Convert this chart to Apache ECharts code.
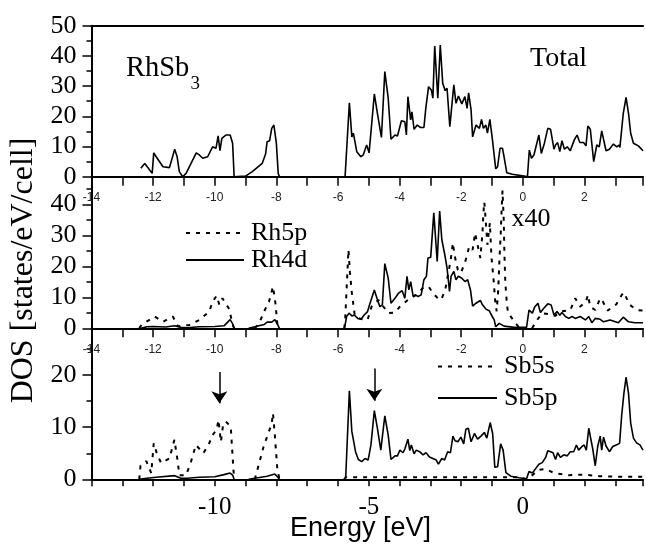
<!DOCTYPE html>
<html><head><meta charset="utf-8">
<script src="https://cdn.jsdelivr.net/npm/echarts@6/dist/echarts.min.js"></script>
<style>html,body{margin:0;padding:0;background:#fff}#c{width:646px;height:546px}</style>
</head><body><div id="c"></div>
<script>
// ---- axis ranges and tick labels ----
const xMin = -14, xMax = 3.9;
const yMaxTop = 50, yMaxMid = 49, yMaxBot = 29;
const xTickLabelsSmall = [-14, -12, -10, -8, -6, -4, -2, 0, 2];
const xTickLabelsBottom = [-10, -5, 0];
const yTickLabelsTop = [0, 10, 20, 30, 40, 50];
const yTickLabelsMid = [0, 10, 20, 30, 40];
const yTickLabelsBot = [0, 10, 20];

// ---- series (energy eV, DOS); '-' marks a gap where the curve lies on zero ----
const totalDOS = [[-12.4,2.8],[-12.27,4.4],[-12.03,1.1],[-11.98,7.9],[-11.9,6.6],[-11.68,3.3],[-11.47,3.0],[-11.3,9.1],[-11.22,6.6],[-11.15,1.7],[-11.04,0],[-10.93,1.1],[-10.6,7.9],[-10.5,7.2],[-10.39,6.1],[-10.23,6.6],[-10.07,9.9],[-9.96,9.4],[-9.89,13.5],[-9.83,8.6],[-9.77,12.7],[-9.64,13.8],[-9.5,13.8],[-9.42,11.1],[-9.37,0],[-9.0,0.2],[-8.78,1.7],[-8.46,4.4],[-8.35,7.5],[-8.3,11.6],[-8.22,11.9],[-8.15,16.0],[-8.08,17.1],[-8.0,11.1],[-7.94,1.1],[-7.9,0],[-6.8,'-'],[-5.77,0],[-5.63,24.5],[-5.55,13.2],[-5.5,14.4],[-5.39,8.3],[-5.26,6.6],[-5.18,7.2],[-5.07,10.5],[-4.99,7.9],[-4.82,27.4],[-4.72,21.0],[-4.59,13.0],[-4.48,34.8],[-4.37,26.0],[-4.28,12.4],[-4.15,13.8],[-4.07,13.5],[-3.94,18.5],[-3.83,18.2],[-3.78,13.8],[-3.73,26.5],[-3.64,18.8],[-3.6,21.5],[-3.53,15.7],[-3.43,17.1],[-3.32,16.3],[-3.21,16.3],[-3.15,22.6],[-3.06,29.8],[-2.97,28.7],[-2.92,26.0],[-2.86,43.3],[-2.76,26.0],[-2.68,43.6],[-2.6,30.9],[-2.52,28.5],[-2.46,29.3],[-2.37,16.6],[-2.24,30.4],[-2.17,24.3],[-2.09,26.7],[-1.98,24.1],[-1.88,26.5],[-1.81,22.6],[-1.76,27.8],[-1.68,22.1],[-1.63,13.2],[-1.52,17.1],[-1.41,16.0],[-1.34,19.0],[-1.28,16.0],[-1.2,17.1],[-1.15,14.4],[-1.07,19.0],[-0.99,12.5],[-0.88,2.6],[-0.82,3.3],[-0.74,9.4],[-0.66,9.4],[-0.61,6.6],[-0.52,1.3],[-0.34,0.8],[0.04,0.2],[0.15,0],[0.21,8.8],[0.28,6.1],[0.36,7.2],[0.52,13.8],[0.6,7.7],[0.7,11.1],[0.81,16.0],[0.9,15.7],[0.95,15.7],[1.01,9.1],[1.06,10.5],[1.13,11.3],[1.2,8.3],[1.27,11.9],[1.35,9.1],[1.44,9.9],[1.54,8.6],[1.67,12.2],[1.76,13.8],[1.85,11.3],[1.97,11.3],[2.05,10.2],[2.11,16.8],[2.19,15.7],[2.3,5.0],[2.4,10.5],[2.48,9.9],[2.56,15.2],[2.7,8.6],[2.81,9.1],[2.94,10.8],[3.05,9.9],[3.12,10.5],[3.15,9.7],[3.26,21.0],[3.35,26.3],[3.43,21.0],[3.5,14.4],[3.59,11.1],[3.75,10.2],[3.9,8.6]];

const rh5p = [[-12.45,0],[-12.38,1.1],[-11.95,3.8],[-11.68,2.1],[-11.36,3.8],[-11.2,0.7],[-10.82,1.1],[-10.5,2.7],[-10.18,5.4],[-10.07,8.6],[-9.94,10.5],[-9.85,7.6],[-9.75,9.7],[-9.53,6.2],[-9.43,1.6],[-9.37,0],[-9.0,'-'],[-8.7,0],[-8.56,1.6],[-8.4,5.4],[-8.24,8.6],[-8.11,13.5],[-8.03,8.1],[-7.97,1.6],[-7.9,0],[-6.8,'-'],[-5.8,0],[-5.77,2.1],[-5.66,25.4],[-5.61,17.9],[-5.55,11.4],[-5.45,3.8],[-5.25,3.0],[-5.04,2.7],[-4.91,7.0],[-4.69,9.2],[-4.37,4.9],[-4.15,5.1],[-3.99,7.0],[-3.73,9.2],[-3.46,10.8],[-3.24,13.0],[-3.06,13.5],[-2.92,11.4],[-2.76,9.7],[-2.65,9.2],[-2.52,12.4],[-2.44,16.8],[-2.35,21.6],[-2.27,27.6],[-2.22,23.8],[-2.11,18.9],[-2.01,17.9],[-1.85,22.2],[-1.74,26.5],[-1.63,25.4],[-1.55,30.8],[-1.47,27.0],[-1.38,22.7],[-1.31,30.8],[-1.28,37.3],[-1.25,40.8],[-1.2,34.1],[-1.15,27.0],[-1.07,34.1],[-1.02,23.2],[-0.95,15.7],[-0.9,9.2],[-0.85,5.5],[-0.8,12],[-0.76,22],[-0.72,30],[-0.69,38],[-0.66,44.5],[-0.62,35],[-0.6,25],[-0.57,15],[-0.52,8],[-0.48,5.0],[-0.23,1.6],[-0.1,0],[0.1,'-'],[0.3,0],[0.45,2.5],[0.63,4.9],[0.9,4.5],[1.05,4.0],[1.22,5.4],[1.54,5.9],[1.7,9.7],[1.86,7.0],[2.05,8.6],[2.11,10.8],[2.19,7.0],[2.35,5.9],[2.51,9.7],[2.6,8.6],[2.75,5.7],[3.03,7.7],[3.21,10.8],[3.28,11.6],[3.46,7.7],[3.69,5.9],[3.9,5.7]];

const rh4d = [[-12.4,0],[-12.2,0.5],[-12.0,0.6],[-11.6,0.4],[-11.3,0.8],[-11.1,0.3],[-10.9,0.2],[-10.5,0.5],[-10.0,0.6],[-9.7,0.8],[-9.5,2.8],[-9.42,1.5],[-9.37,0],[-9.1,'-'],[-8.9,0],[-8.7,0.5],[-8.4,1.2],[-8.3,2.0],[-8.15,2.0],[-8.05,2.8],[-7.95,1.0],[-7.9,0],[-6.8,'-'],[-5.79,0],[-5.72,3.8],[-5.64,4.9],[-5.55,4.0],[-5.47,4.3],[-5.36,3.2],[-5.25,2.9],[-5.15,4.3],[-5.04,5.4],[-4.96,8.1],[-4.82,12.4],[-4.72,9.2],[-4.64,7.0],[-4.56,7.6],[-4.48,20.9],[-4.37,16.2],[-4.28,8.1],[-4.15,9.7],[-4.03,11.4],[-3.92,12.2],[-3.83,9.7],[-3.76,16.8],[-3.7,12.4],[-3.64,15.1],[-3.56,10.3],[-3.49,10.8],[-3.4,10.3],[-3.3,10.8],[-3.21,15.7],[-3.13,16.8],[-3.08,22.7],[-2.99,23.0],[-2.89,37.3],[-2.78,21.6],[-2.7,37.9],[-2.63,28.7],[-2.54,24.1],[-2.46,19.5],[-2.38,11.9],[-2.33,16.8],[-2.24,18.4],[-2.17,15.7],[-2.09,16.8],[-1.98,16.2],[-1.88,15.1],[-1.79,15.7],[-1.7,12.4],[-1.63,7.2],[-1.52,8.1],[-1.38,9.0],[-1.31,7.6],[-1.2,6.2],[-1.09,5.7],[-1.02,4.3],[-0.93,2.7],[-0.88,0.5],[-0.77,1.6],[-0.61,0.7],[-0.28,0.3],[0.12,0.3],[0.2,5.9],[0.31,4.9],[0.38,6.8],[0.49,8.1],[0.57,5.1],[0.68,6.5],[0.81,7.9],[0.92,7.5],[1.01,4.3],[1.11,5.4],[1.2,4.2],[1.27,5.1],[1.38,3.8],[1.49,3.2],[1.6,3.8],[1.7,3.2],[1.86,3.8],[2.03,2.7],[2.14,3.8],[2.24,1.8],[2.35,3.2],[2.51,2.9],[2.62,2.1],[2.83,2.7],[3.1,1.8],[3.26,3.6],[3.43,2.1],[3.64,1.8],[3.9,1.8]];

const sb5s = [[-12.45,0],[-12.41,2.6],[-12.22,3.5],[-12.06,1.2],[-11.98,6.9],[-11.88,5.0],[-11.74,3.1],[-11.47,4.0],[-11.31,7.6],[-11.2,3.4],[-11.15,0.8],[-10.93,0.8],[-10.77,3.4],[-10.61,6.6],[-10.37,5.0],[-10.18,6.9],[-10.07,8.5],[-9.94,9.5],[-9.88,11.4],[-9.8,7.2],[-9.73,10.4],[-9.64,11.1],[-9.48,10.1],[-9.43,5.3],[-9.39,1.5],[-9.35,0],[-9.0,'-'],[-8.7,0],[-8.59,2.4],[-8.4,6.6],[-8.26,8.8],[-8.15,10.8],[-8.11,12.7],[-8.05,8.5],[-7.97,2.1],[-7.9,0],[-6.8,'-'],[-5.8,0],[-5.75,0.4],[-3.0,0.4],[-0.1,0.4],[0.1,0],[0.2,0.3],[0.35,1.0],[0.5,1.8],[0.75,2.0],[1.0,1.2],[1.5,0.8],[2.0,0.9],[2.5,0.6],[3.0,0.5],[3.9,0.5]];

const sb5p = [[-12.45,0],[-12.2,0.2],[-11.9,0.4],[-11.3,0.7],[-11.1,0.2],[-10.9,0.2],[-10.5,0.4],[-10.0,0.5],[-9.7,0.9],[-9.5,1.2],[-9.42,0.8],[-9.37,0],[-9.1,'-'],[-8.9,0],[-8.6,0.3],[-8.3,0.6],[-8.05,1.0],[-7.95,0.4],[-7.9,0],[-6.8,'-'],[-5.75,0.2],[-5.63,17.0],[-5.55,9.2],[-5.5,9.0],[-5.43,5.3],[-5.34,3.8],[-5.23,3.4],[-5.12,4.0],[-5.02,3.7],[-4.93,6.6],[-4.82,13.2],[-4.72,9.8],[-4.61,5.6],[-4.48,12.2],[-4.37,8.5],[-4.28,3.8],[-4.15,4.5],[-4.07,4.5],[-3.99,5.6],[-3.89,5.1],[-3.83,5.8],[-3.73,7.7],[-3.67,5.5],[-3.62,6.6],[-3.53,4.9],[-3.46,5.6],[-3.35,5.3],[-3.24,4.7],[-3.14,5.1],[-3.03,4.3],[-2.92,4.0],[-2.81,3.7],[-2.74,2.9],[-2.63,4.0],[-2.54,3.7],[-2.44,5.3],[-2.35,5.1],[-2.27,8.3],[-2.2,7.4],[-2.11,7.2],[-2.01,8.1],[-1.92,6.8],[-1.85,9.6],[-1.77,9.8],[-1.68,7.2],[-1.57,8.8],[-1.47,7.7],[-1.36,8.3],[-1.25,9.0],[-1.17,7.9],[-1.06,10.9],[-0.98,8.8],[-0.91,2.3],[-0.82,2.4],[-0.72,6.8],[-0.64,5.6],[-0.55,1.3],[-0.39,0.6],[-0.12,0.3],[0.12,0.1],[0.2,1.5],[0.31,1.2],[0.41,2.0],[0.52,2.9],[0.63,3.2],[0.74,4.2],[0.81,5.5],[0.9,5.3],[0.98,5.1],[1.06,3.8],[1.13,5.1],[1.22,4.2],[1.33,4.7],[1.44,4.5],[1.54,5.3],[1.65,5.3],[1.74,6.6],[1.81,5.6],[1.92,6.3],[1.99,6.6],[2.06,5.6],[2.14,9.8],[2.19,9.5],[2.27,5.8],[2.35,2.6],[2.43,6.3],[2.51,8.3],[2.56,5.6],[2.62,8.1],[2.7,6.4],[2.81,5.3],[2.92,6.3],[3.03,6.6],[3.14,6.9],[3.21,12.4],[3.28,16.5],[3.35,19.6],[3.43,16.5],[3.5,10.8],[3.59,7.9],[3.69,7.0],[3.8,6.6],[3.9,5.6]];

// arrows in the bottom panel: [energy, yFrom, yTo]
const arrowMarks = [[-9.85, 20.6, 14.6], [-4.82, 21.3, 15.1]];

const SERIF = '"Liberation Serif", "Times New Roman", serif';
const SANS = '"Liberation Sans", Arial, Helvetica, sans-serif';
const L = 91.5, W = 554.5;

function xAx(i, bottom) {
  return {
    type: 'value', gridIndex: i, min: xMin, max: xMax, interval: 1,
    axisLine: { onZero: false, lineStyle: { color: '#000', width: 2 } },
    axisTick: { length: bottom ? 7 : 9, lineStyle: { color: '#000', width: 1.5 } },
    splitLine: { show: false },
    axisLabel: bottom
      ? { margin: 16, fontFamily: SERIF, fontSize: 25, color: '#000',
          formatter: v => xTickLabelsBottom.includes(v) ? String(v) : '' }
      : { margin: 15, fontFamily: SANS, fontSize: 12, color: '#222',
          formatter: v => xTickLabelsSmall.includes(v) ? String(v) : '' }
  };
}
function yAx(i, max, labels) {
  return {
    type: 'value', gridIndex: i, min: 0, max: max, interval: 10,
    axisLine: { show: true, onZero: false, lineStyle: { color: '#000', width: 2 } },
    axisTick: { length: 9, lineStyle: { color: '#000', width: 1.5 } },
    minorTick: { show: true, splitNumber: 2, length: 5, lineStyle: { color: '#000', width: 1.5 } },
    splitLine: { show: false },
    axisLabel: { margin: 15, fontFamily: SERIF, fontSize: 26, color: '#000',
      formatter: v => labels.includes(v) ? String(v) : '' }
  };
}
const solid = { color: '#000', width: 1.6, type: 'solid' };
const dotted = { color: '#000', width: 2, type: [4, 6] };
function ser(name, xi, data, ls) {
  return { type: 'line', name, xAxisIndex: xi, yAxisIndex: xi, data, showSymbol: false, symbol: 'none',
    connectNulls: false, lineStyle: ls, itemStyle: { color: '#000' }, animation: false, silent: true };
}
function legendOpt(names, left, top, gap, iw) {
  return { data: names, orient: 'vertical', left, top, padding: 0,
    itemWidth: iw, itemHeight: 2, itemGap: gap, selectedMode: false,
    itemStyle: { opacity: 0, borderWidth: 0 },
    textStyle: { fontFamily: SERIF, fontSize: 26, lineHeight: 27, color: '#000', padding: [0, 0, 0, 2] } };
}

const chart = echarts.init(document.getElementById('c'), null, { renderer: 'canvas' });
const sbp = ser('Sb5p', 2, sb5p, solid);
sbp.markLine = {
  silent: true, animation: false, symbol: ['none', 'arrow'], symbolSize: 12,
  label: { show: false }, lineStyle: { color: '#000', width: 1.5, type: 'solid' },
  data: arrowMarks.map(a => [{ coord: [a[0], a[1]] }, { coord: [a[0], a[2]] }])
};
chart.setOption({
  animation: false,
  backgroundColor: '#fff',
  grid: [
    { left: L, width: W, top: 25.7, height: 151 },
    { left: L, width: W, top: 176.7, height: 151.6 },
    { left: L, width: W, top: 328.3, height: 151 }
  ],
  xAxis: [xAx(0, false), xAx(1, false), xAx(2, true),
    { type: 'value', gridIndex: 0, position: 'top', min: xMin, max: xMax,
      axisLine: { onZero: false, lineStyle: { color: '#000', width: 2 } },
      axisTick: { show: false }, axisLabel: { show: false }, splitLine: { show: false } }],
  yAxis: [yAx(0, yMaxTop, yTickLabelsTop), yAx(1, yMaxMid, yTickLabelsMid), yAx(2, yMaxBot, yTickLabelsBot)],
  legend: [
    legendOpt(['Rh5p', 'Rh4d'], 185, 219.5, 0, 58),
    legendOpt(['Sb5s', 'Sb5p'], 437, 353, 4.6, 59)
  ],
  series: [
    ser('Total', 0, totalDOS, solid),
    ser('Rh5p', 1, rh5p, dotted),
    ser('Rh4d', 1, rh4d, solid),
    ser('Sb5s', 2, sb5s, dotted),
    sbp
  ],
  graphic: [
    { type: 'text', x: 126, y: 69, style: { text: 'RhSb', fill: '#000', font: '28.5px ' + SERIF, align: 'left', verticalAlign: 'middle' } },
    { type: 'text', x: 190.5, y: 84.5, style: { text: '3', fill: '#000', font: '19px ' + SERIF, align: 'left', verticalAlign: 'middle' } },
    { type: 'text', x: 530, y: 59, style: { text: 'Total', fill: '#000', font: '28px ' + SERIF, align: 'left', verticalAlign: 'middle' } },
    { type: 'text', x: 511.5, y: 219, style: { text: 'x40', fill: '#000', font: '26px ' + SERIF, align: 'left', verticalAlign: 'middle' } },
    { type: 'text', x: 24, y: 270.5, rotation: Math.PI / 2, style: { text: 'DOS [states/eV/cell]', fill: '#000', font: '32px ' + SERIF, align: 'center', verticalAlign: 'middle' } },
    { type: 'text', x: 360.5, y: 529, style: { text: 'Energy [eV]', fill: '#000', font: '27px ' + SANS, align: 'center', verticalAlign: 'middle' } }
  ]
});
</script></body></html>
